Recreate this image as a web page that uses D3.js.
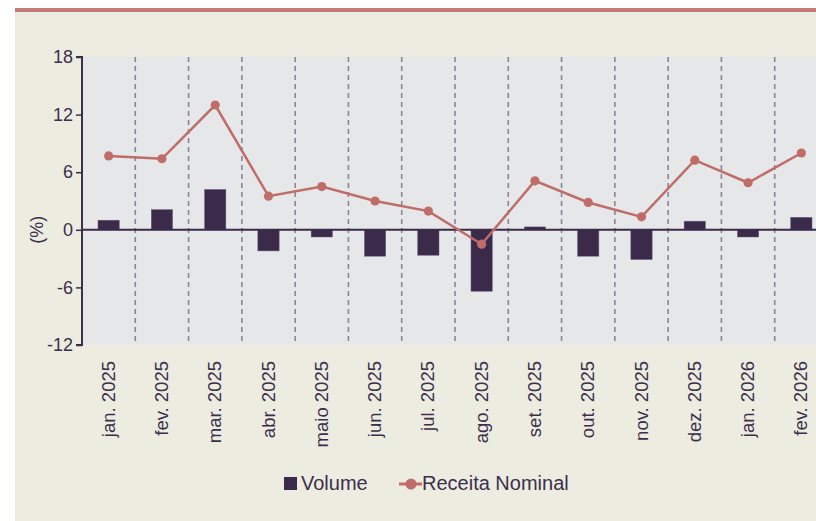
<!DOCTYPE html>
<html>
<head>
<meta charset="utf-8">
<script src="https://cdn.jsdelivr.net/npm/d3@7"></script>
<style>
  html, body { margin: 0; padding: 0; background: #ffffff; }
  svg { display: block; }
  text { font-family: "Liberation Sans", Arial, sans-serif; fill: #3b2f4d; }
</style>
</head>
<body>
<svg id="chart" width="816" height="521"></svg>
<script>
const categories = ["jan. 2025","fev. 2025","mar. 2025","abr. 2025","maio 2025","jun. 2025","jul. 2025","ago. 2025","set. 2025","out. 2025","nov. 2025","dez. 2025","jan. 2026","fev. 2026"];
const volume = [1.0, 2.1, 4.2, -2.2, -0.75, -2.75, -2.65, -6.4, 0.3, -2.75, -3.1, 0.9, -0.75, 1.3];
const receitaNominal = [7.7, 7.4, 13.0, 3.5, 4.5, 3.0, 1.95, -1.5, 5.1, 2.85, 1.35, 7.25, 4.9, 8.0];
const yTicks = [-12, -6, 0, 6, 12, 18];
const seriesNames = ["Volume", "Receita Nominal"];

(function () {
const W = 816, H = 521;
const svg = d3.select("#chart");
const barColor = "#3b2a4a";
const lineColor = "#c06c68";
const inkColor = "#3b2f4d";

svg.append("rect").attr("x", 0).attr("y", 0).attr("width", W).attr("height", H).attr("fill", "#ffffff");
svg.append("rect").attr("x", 15).attr("y", 10).attr("width", W - 15).attr("height", H - 10).attr("fill", "#ecece0");
svg.append("rect").attr("x", 15).attr("y", 8).attr("width", W - 15).attr("height", 4).attr("fill", "#c47a77");

const pL = 82, pR = 828, pT = 57, pB = 345;

const x = d3.scaleBand().domain(categories).range([pL, pR]).paddingInner(0.6).paddingOuter(0.3);
const y = d3.scaleLinear().domain([-12, 18]).range([pB, pT]);

svg.append("rect").attr("x", pL).attr("y", pT).attr("width", pR - pL).attr("height", pB - pT).attr("fill", "#e6e7e8");

const step = x.step();
svg.append("g").selectAll("line").data(categories.slice(1)).join("line")
  .attr("x1", (d) => x(d) - x.paddingInner() * step / 2)
  .attr("x2", (d) => x(d) - x.paddingInner() * step / 2)
  .attr("y1", pT).attr("y2", pB)
  .attr("stroke", "#8a8496").attr("stroke-width", 1.6).attr("stroke-dasharray", "5,4");

svg.append("g").selectAll("rect").data(categories).join("rect")
  .attr("x", (d) => x(d))
  .attr("width", x.bandwidth())
  .attr("y", (d, i) => y(Math.max(0, volume[i])))
  .attr("height", (d, i) => Math.abs(y(volume[i]) - y(0)))
  .attr("fill", barColor)
  .attr("stroke", "#6e6280").attr("stroke-width", 0.5);

svg.append("line").attr("x1", pL).attr("x2", W).attr("y1", y(0)).attr("y2", y(0))
  .attr("stroke", "#3b2a4a").attr("stroke-width", 2);

const yAxis = d3.axisLeft(y).tickValues(yTicks).tickSize(6).tickPadding(3).tickFormat((d) => String(d));
const ya = svg.append("g").attr("transform", `translate(${pL},0)`).call(yAxis);
ya.select(".domain").attr("stroke", inkColor).attr("stroke-width", 2).attr("d", `M-6,${pT}H0V${pB}H-6`);
ya.selectAll(".tick line").attr("stroke", inkColor).attr("stroke-width", 1.5);
ya.selectAll(".tick text").attr("font-size", 18).attr("fill", inkColor)
  .style("font-family", '"Liberation Sans", Arial, sans-serif');

svg.append("text").attr("transform", `translate(43,${y(0)}) rotate(-90)`)
  .attr("text-anchor", "middle").attr("font-size", 18).text("(%)");

const xAxis = d3.axisBottom(x).tickSize(0).tickPadding(0);
const xa = svg.append("g").attr("transform", `translate(0,${pB})`).call(xAxis);
xa.select(".domain").remove();
xa.selectAll(".tick text")
  .attr("font-size", 18.5).attr("fill", inkColor)
  .style("font-family", '"Liberation Sans", Arial, sans-serif')
  .attr("text-anchor", "end")
  .attr("transform", "translate(6,16) rotate(-90)")
  .attr("dy", 0).attr("y", 0).attr("x", 0);

const line = d3.line().x((d, i) => x(categories[i]) + x.bandwidth() / 2).y((d) => y(d));
svg.append("path").datum(receitaNominal).attr("d", line)
  .attr("fill", "none").attr("stroke", lineColor).attr("stroke-width", 2.5);
svg.append("g").selectAll("circle").data(receitaNominal).join("circle")
  .attr("cx", (d, i) => x(categories[i]) + x.bandwidth() / 2)
  .attr("cy", (d) => y(d)).attr("r", 4.6).attr("fill", lineColor);

const lg = svg.append("g");
lg.append("rect").attr("x", 284).attr("y", 477).attr("width", 13).attr("height", 13).attr("fill", barColor);
lg.append("text").attr("x", 301).attr("y", 490).attr("font-size", 20).text(seriesNames[0]);
lg.append("line").attr("x1", 399).attr("x2", 422).attr("y1", 484).attr("y2", 484).attr("stroke", lineColor).attr("stroke-width", 3);
lg.append("circle").attr("cx", 411).attr("cy", 484).attr("r", 5.5).attr("fill", lineColor);
lg.append("text").attr("x", 422).attr("y", 490).attr("font-size", 20).text(seriesNames[1]);
})();
</script>
</body>
</html>
